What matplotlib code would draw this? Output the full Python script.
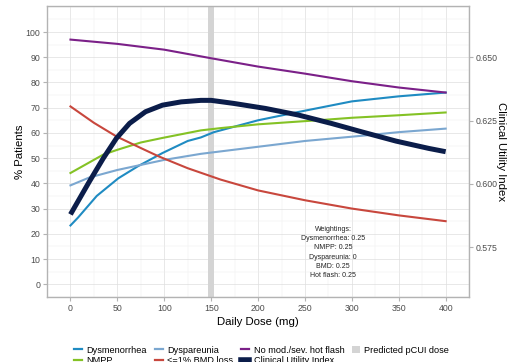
import matplotlib
matplotlib.use("Agg")
import matplotlib.pyplot as plt
from matplotlib.lines import Line2D
from matplotlib.patches import Patch

plt.rcParams["font.family"] = ["Liberation Sans", "DejaVu Sans"]

# doses (mg) and % patients per endpoint
dose_dys = [0, 8, 28, 51, 72, 98, 125, 139, 153, 200, 243, 300, 350, 400]
dysmenorrhea = [23.3, 26.4, 35, 42, 46.8, 52, 56.8, 58.2, 60.3, 65, 68.3, 72.5, 74.5, 76]

dose_nmpp = [0, 35, 50, 75, 98, 139, 160, 200, 271, 300, 350, 400]
nmpp = [44.1, 51.4, 53.3, 56.2, 58, 61, 61.9, 63.4, 65.2, 66, 67, 68.1]

dose_dyspar = [0, 20, 50, 100, 139, 200, 250, 300, 323, 350, 400]
dyspareunia = [39.2, 42.3, 45.3, 49.3, 51.7, 54.5, 56.8, 58.5, 59.3, 60.3, 61.7]

dose_bmd = [0, 25, 49, 75, 94, 125, 160, 200, 250, 300, 350, 400]
bmd = [70.5, 64, 58.6, 54, 50.7, 46, 41.5, 37.2, 33.3, 30, 27.3, 25]

dose_hf = [0, 50, 100, 150, 200, 250, 300, 350, 400]
hot_flash = [97, 95.3, 93, 89.6, 86.3, 83.5, 80.5, 78, 76]

dose_cui = [0, 20, 35, 49, 63, 80, 98, 118, 139, 150, 174, 208, 243, 278, 312, 347, 382, 400]
cui = [0.5879, 0.6008, 0.6101, 0.6180, 0.6239, 0.6285, 0.6311, 0.6324, 0.6330, 0.6330,
       0.6318, 0.6298, 0.6272, 0.6239, 0.6204, 0.6169, 0.6140, 0.6127]

pcui_dose = 150

weight_text = ("Weightings:\nDysmenorrhea: 0.25\nNMPP: 0.25\nDyspareunia: 0\n"
               "BMD: 0.25\nHot flash: 0.25")

c_dys = "#1f8bc2"
c_nmpp = "#84c225"
c_dyspar = "#7ba7d0"
c_bmd = "#c8473d"
c_hf = "#7b2088"
c_cui = "#0b1d4a"
c_band = "#d4d4d4"


def to_cui(p):
    return 0.56 + p / 1000.0


fig = plt.figure(figsize=(5.11, 3.62), dpi=100)
ax = fig.add_axes([0.092, 0.180, 0.826, 0.804])

ylo, yhi = -4.7, 110.4
ax.set_xlim(-20, 420)
ax.set_ylim(ylo, yhi)

ax.set_xticks(range(0, 401, 50))
ax.set_xticks(range(-25, 426, 25), minor=True)
ax.set_yticks(range(0, 101, 10))
ax.set_yticks(range(-5, 111, 5), minor=True)
ax.grid(which="major", color="#dedede", linewidth=0.5)
ax.grid(which="minor", color="#eeeeee", linewidth=0.35)
ax.set_axisbelow(True)
ax.tick_params(which="minor", length=0)
ax.tick_params(which="major", length=3, color="#b3b3b3", labelsize=6.3,
               labelcolor="#4d4d4d", pad=2)
for s in ax.spines.values():
    s.set_color("#b3b3b3")
    s.set_linewidth(1.0)

ax.axvspan(pcui_dose - 3, pcui_dose + 3, color=c_band, lw=0, zorder=1)

lw = 1.5
ax.plot(dose_dys, dysmenorrhea, color=c_dys, lw=lw, zorder=3)
ax.plot(dose_nmpp, nmpp, color=c_nmpp, lw=lw, zorder=3)
ax.plot(dose_dyspar, dyspareunia, color=c_dyspar, lw=lw, zorder=3)
ax.plot(dose_bmd, bmd, color=c_bmd, lw=lw, zorder=3)
ax.plot(dose_hf, hot_flash, color=c_hf, lw=lw, zorder=3)

ax.text(280, 12.6, weight_text, ha="center", va="center", fontsize=5.0,
        linespacing=1.45, color="#222222", zorder=4)

ax.set_xlabel("Daily Dose (mg)", fontsize=8.2, labelpad=3)
ax.set_ylabel("% Patients", fontsize=8.2, labelpad=0)

ax2 = ax.twinx()
ax2.set_ylim(to_cui(ylo), to_cui(yhi))
ax2.plot(dose_cui, cui, color=c_cui, lw=3.6, solid_capstyle="butt",
         solid_joinstyle="round", zorder=5)
ax2.set_yticks([0.575, 0.600, 0.625, 0.650])
ax2.set_yticklabels(["0.575", "0.600", "0.625", "0.650"])
ax2.tick_params(length=3, color="#b3b3b3", labelsize=6.3, labelcolor="#4d4d4d", pad=2)
for s in ax2.spines.values():
    s.set_visible(False)
ax2.set_ylabel("Clinical Utility Index", fontsize=8.2, rotation=-90, labelpad=6)

handles = [
    Line2D([], [], color=c_dys, lw=1.6),
    Line2D([], [], color=c_nmpp, lw=1.6),
    Line2D([], [], color=c_dyspar, lw=1.6),
    Line2D([], [], color=c_bmd, lw=1.6),
    Line2D([], [], color=c_hf, lw=1.6),
    Line2D([], [], color=c_cui, lw=4),
    Patch(facecolor=c_band, edgecolor="none"),
]
labels = ["Dysmenorrhea", "NMPP", "Dyspareunia", "<=1% BMD loss",
          "No mod./sev. hot flash", "Clinical Utility Index", "Predicted pCUI dose"]
fig.legend(handles, labels, ncol=4, loc="upper center", bbox_to_anchor=(0.512, 0.058),
           frameon=False, fontsize=6.6, handlelength=0.9, handletextpad=0.5,
           columnspacing=0.8, labelspacing=0.15, borderpad=0)

fig.savefig("out.png", dpi=100)
